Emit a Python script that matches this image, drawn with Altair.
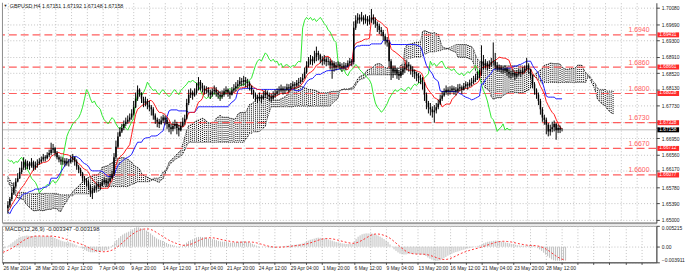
import json
import altair as alt
import numpy as np
import pandas as pd

# ------------------------------------------------------------------ data
# Prices are written in pips above 1.6000 (e.g. 535 -> 1.6535).
# H4 bars before the first visible candle (13-26 Mar 2014), used by the indicators.
pre_close = [645, 640, 638,
             636, 632, 628, 640, 635, 632,
             630, 634, 625, 628, 633, 630,
             628, 622, 610, 598, 596, 600,
             602, 605, 600, 598, 595, 562,
             548, 530, 512, 496, 488, 492,
             498, 494, 486, 482, 488, 492,
             495, 500, 506, 515, 522, 518,
             515, 510, 505, 520, 530, 525,
             528]
pre_high = [652, 648, 642,
            640, 638, 636, 645, 644, 638,
            636, 638, 634, 632, 638, 636,
            634, 630, 624, 612, 602, 606,
            608, 610, 606, 604, 600, 598,
            565, 550, 532, 515, 498, 498,
            502, 500, 495, 490, 492, 496,
            498, 504, 510, 520, 528, 526,
            522, 518, 512, 524, 535, 532,
            534]
pre_low = [640, 636, 632,
           630, 628, 622, 626, 630, 628,
           625, 626, 620, 622, 626, 625,
           622, 615, 605, 592, 590, 594,
           596, 598, 594, 592, 588, 555,
           540, 525, 505, 490, 480, 484,
           490, 486, 478, 475, 480, 486,
           488, 492, 500, 505, 515, 512,
           508, 502, 498, 503, 518, 518,
           520]

# Visible H4 bars, from 26 Mar 2014 04:00.
bar_close = [
    535, 550, 565, 580, 592, 600, 615, 625,
    640, 628, 635, 630, 638, 625, 632, 635,
    640, 645, 650, 648, 655, 660, 668, 672,
    660, 650, 645, 640, 642, 635, 640, 638,
    645, 650, 640, 628, 620, 612, 600, 595,
    590, 580, 565, 570, 575, 580, 585, 582,
    590, 595, 588, 592, 600, 610, 650, 675,
    700, 712, 720, 730, 735, 740, 745, 755,
    770, 790, 812, 805, 790, 780, 785, 775,
    770, 765, 750, 740, 735, 730, 738, 745,
    740, 730, 722, 718, 725, 730, 720, 715,
    725, 735, 742, 780, 800, 805, 798, 805,
    815, 830, 822, 815, 810, 812, 805, 800,
    808, 812, 805, 800, 795, 800, 808, 812,
    805, 800, 810, 815, 820, 825, 832, 830,
    835, 830, 828, 820, 810, 800, 795, 790,
    795, 790, 798, 805, 800, 795, 790, 798,
    802, 808, 810, 815, 810, 812, 818, 815,
    820, 825, 822, 828, 830, 835, 840, 855,
    870, 880, 885, 880, 890, 900, 895, 885,
    880, 885, 878, 880, 870, 875, 865, 870,
    872, 868, 865, 870, 868, 875, 880, 878,
    960, 978, 985, 980, 985, 978, 982, 975,
    980, 985, 978, 970, 965, 955, 950, 940,
    930, 925, 880, 862, 855, 860, 850, 845,
    855, 860, 865, 872, 868, 860, 855, 850,
    845, 840, 835, 825, 800, 780, 770, 765,
    758, 762, 770, 778, 790, 798, 805, 812,
    808, 810, 815, 812, 808, 815, 818, 812,
    820, 825, 822, 828, 830, 835, 840, 845,
    850, 880, 870, 875, 868, 872, 878, 880,
    870, 862, 865, 860, 858, 862, 855, 850,
    848, 852, 845, 850, 855, 852, 858, 862,
    870, 860, 845, 825, 810, 800, 785, 765,
    745, 740, 728, 712, 718, 722, 730, 715,
    720, 716, 716]
bar_high = [
    545, 555, 575, 590, 600, 612, 625, 640,
    650, 645, 642, 640, 648, 642, 640, 645,
    648, 652, 658, 655, 662, 668, 685, 682,
    675, 665, 655, 652, 650, 648, 648, 646,
    655, 658, 652, 645, 632, 625, 615, 605,
    600, 595, 585, 578, 582, 590, 592, 590,
    598, 602, 600, 600, 610, 618, 660, 690,
    710, 722, 730, 738, 745, 750, 755, 765,
    785, 805, 822, 815, 800, 795, 795, 790,
    785, 775, 770, 755, 745, 742, 748, 752,
    750, 745, 735, 730, 735, 740, 735, 728,
    735, 745, 752, 790, 812, 815, 810, 815,
    828, 842, 835, 828, 822, 820, 818, 812,
    815, 822, 818, 810, 808, 810, 815, 820,
    815, 810, 818, 825, 830, 835, 842, 840,
    845, 842, 838, 832, 822, 812, 805, 800,
    805, 800, 808, 812, 810, 805, 802, 808,
    812, 815, 820, 824, 820, 820, 826, 825,
    828, 832, 830, 835, 840, 842, 850, 865,
    880, 890, 895, 892, 905, 915, 905, 898,
    892, 895, 890, 890, 885, 882, 880, 878,
    880, 878, 875, 878, 876, 882, 888, 885,
    975, 990, 995, 992, 998, 990, 992, 988,
    990, 1005, 992, 985, 975, 970, 962, 955,
    945, 938, 930, 885, 870, 870, 862, 858,
    865, 868, 875, 882, 878, 872, 868, 860,
    855, 852, 848, 842, 830, 805, 785, 780,
    772, 775, 780, 788, 800, 808, 815, 822,
    818, 820, 822, 820, 818, 825, 826, 822,
    828, 832, 830, 836, 840, 845, 850, 855,
    860, 918, 895, 885, 880, 882, 888, 925,
    900, 878, 872, 870, 868, 870, 865, 862,
    858, 860, 856, 858, 862, 860, 866, 870,
    888, 875, 862, 848, 830, 815, 805, 790,
    770, 752, 745, 732, 728, 735, 738, 732,
    728, 726, 720]
bar_low = [
    515, 530, 545, 560, 575, 590, 598, 610,
    620, 620, 622, 620, 625, 618, 620, 625,
    632, 636, 640, 640, 645, 650, 655, 660,
    652, 645, 638, 632, 632, 628, 630, 628,
    635, 638, 630, 620, 612, 605, 592, 585,
    580, 572, 555, 550, 565, 570, 575, 572,
    580, 585, 580, 582, 590, 598, 605, 645,
    672, 700, 708, 715, 725, 730, 735, 740,
    750, 768, 785, 795, 780, 770, 772, 765,
    760, 750, 740, 730, 722, 720, 728, 732,
    728, 718, 710, 705, 712, 718, 705, 700,
    712, 722, 728, 740, 775, 792, 788, 795,
    800, 810, 810, 805, 800, 802, 795, 790,
    795, 800, 795, 790, 785, 790, 795, 800,
    795, 790, 798, 805, 808, 815, 820, 820,
    822, 818, 815, 810, 800, 790, 785, 780,
    785, 780, 788, 792, 790, 785, 782, 788,
    792, 798, 800, 805, 800, 802, 808, 805,
    810, 815, 812, 818, 820, 825, 830, 838,
    850, 865, 872, 870, 875, 880, 882, 875,
    870, 872, 868, 870, 860, 838, 855, 858,
    862, 860, 855, 860, 858, 865, 870, 868,
    872, 955, 970, 970, 975, 968, 970, 965,
    968, 972, 968, 960, 950, 945, 940, 930,
    920, 915, 865, 835, 840, 848, 838, 835,
    840, 848, 852, 858, 855, 848, 842, 838,
    832, 828, 825, 812, 785, 765, 755, 750,
    745, 733, 755, 765, 775, 785, 795, 800,
    798, 800, 805, 800, 798, 805, 808, 802,
    810, 815, 812, 818, 820, 825, 830, 835,
    840, 845, 860, 862, 858, 862, 868, 870,
    860, 855, 855, 852, 850, 852, 845, 840,
    838, 842, 835, 840, 845, 842, 848, 852,
    858, 850, 838, 815, 800, 790, 775, 752,
    735, 728, 705, 700, 702, 710, 712, 692,
    708, 708, 712]

x_tick_labels = ["26 Mar 2014", "28 Mar 20:00", "2 Apr 12:00", "7 Apr 04:00",
                 "9 Apr 20:00", "14 Apr 12:00", "17 Apr 04:00", "21 Apr 20:00",
                 "24 Apr 12:00", "29 Apr 04:00", "1 May 20:00", "6 May 12:00",
                 "9 May 04:00", "13 May 20:00", "16 May 12:00", "21 May 04:00",
                 "23 May 20:00", "28 May 12:00"]
price_ticks = [1.65000, 1.65391, 1.65782, 1.66172, 1.66563, 1.66954, 1.67345,
               1.67735, 1.68126, 1.68517, 1.68908, 1.69298, 1.69689, 1.70080]
hidden_price_tick = 1.67345      # covered by the 1.67328 price box in the reference
raised_price_ticks = [1.66172, 1.68126]   # labels sitting just above a price box
level_prices = [1.69431, 1.68661, 1.68028, 1.67328, 1.66712, 1.66077]
level_names = ["1.6940", "1.6860", "1.6800", "1.6730", "1.6670", "1.6600"]
bid_price = 1.67158
header_text = "GBPUSD,H4  1.67151 1.67192 1.67148 1.67158"
macd_text = "MACD(12,26,9) -0.003347 -0.003198"
macd_ticks = [-0.003911, 0.0, 0.005215]

# ------------------------------------------------------------------ derived series
FONT = "Liberation Sans"
c = np.array(pre_close + bar_close, float) * 1e-4 + 1.6
h = np.array(pre_high + bar_high, float) * 1e-4 + 1.6
l = np.array(pre_low + bar_low, float) * 1e-4 + 1.6
bars = np.arange(len(c)) - len(pre_close)
o = np.r_[c[0], c[:-1]]
h = np.maximum(h, np.maximum(o, c))
l = np.minimum(l, np.minimum(o, c))

H, L, C = pd.Series(h), pd.Series(l), pd.Series(c)
tenkan = (H.rolling(9, min_periods=1).max() + L.rolling(9, min_periods=1).min()) / 2
kijun = (H.rolling(26, min_periods=1).max() + L.rolling(26, min_periods=1).min()) / 2
span_a = (tenkan + kijun) / 2
span_b = (H.rolling(52, min_periods=1).max() + L.rolling(52, min_periods=1).min()) / 2
macd = C.ewm(span=12, adjust=False).mean() - C.ewm(span=26, adjust=False).mean()
signal = macd.rolling(9, min_periods=1).mean()

vis = bars >= 0
candles = pd.DataFrame({"bar": bars, "open": o, "high": h, "low": l, "close": c})[vis]
ichi = pd.DataFrame({"bar": bars, "tenkan": tenkan.values, "kijun": kijun.values})[vis]
chikou = pd.DataFrame({"bar": bars - 26, "v": c})
chikou = chikou[chikou.bar >= 0]
cloud = pd.DataFrame({"bar": bars + 26, "a": span_a.values, "b": span_b.values})
cloud = cloud[(cloud.bar >= 0) & (cloud.bar <= 327)]
macd_df = pd.DataFrame({"bar": bars, "m": macd.values, "s": signal.values,
                        "z": np.zeros(len(bars))})[vis]

BOX_HALF = 0.0006
levels = pd.DataFrame({"price": level_prices, "name": level_names,
                       "box": ["%.5f" % p for p in level_prices]})
levels["lo"] = levels.price - BOX_HALF
levels["hi"] = levels.price + BOX_HALF
bid = pd.DataFrame({"price": [bid_price], "box": ["%.5f" % bid_price]})
bid["lo"] = bid.price - BOX_HALF
bid["hi"] = bid.price + BOX_HALF

# ------------------------------------------------------------------ scales / axes
XS = alt.Scale(domain=[-0.5, 327.5], nice=False, zero=False)
YS = alt.Scale(domain=[1.6493, 1.7020], nice=False, zero=False)
MS = alt.Scale(domain=[-0.003911, 0.005215], nice=False, zero=False)
grid_vals = list(range(0, 328, 8))
GRID = dict(grid=True, gridColor="#c2c2c2", gridDash=[1, 2], gridWidth=1)

raise_test = " || ".join(f"abs(datum.value - {v}) < 0.00001" for v in raised_price_ticks)
ax_x_main = alt.Axis(values=grid_vals, labels=False, ticks=False, domainColor="#9a9a9a",
                     domainWidth=2, title=None, **GRID)
ax_y_main = alt.Axis(orient="right", values=price_ticks,
                     labelExpr=(f"abs(datum.value - {hidden_price_tick}) < 0.00001 ? '' : "
                                "format(datum.value, '.4f') + '0'"),
                     labelOffset={"condition": {"test": raise_test, "value": -2}, "value": 0},
                     tickSize=3, tickColor="#444", domainColor="#444", labelPadding=2,
                     labelFontSize=5, labelColor="#222", labelFont=FONT,
                     labelOverlap=False, labelBaseline="middle", title=None, **GRID)
X_main = alt.X("bar:Q", scale=XS, axis=ax_x_main)


def ym(field):
    return alt.Y(field, type="quantitative", scale=YS, axis=ax_y_main)


lbl_arr = json.dumps(x_tick_labels)
ax_x_macd = alt.Axis(values=grid_vals,
                     labelExpr=(f"datum.value % 16 == 0 && datum.value / 16 < {len(x_tick_labels)}"
                                f" ? {lbl_arr}[datum.value / 16] : ''"),
                     labelAlign="left", labelPadding=1, labelFontSize=5, labelFont=FONT,
                     labelColor="#222", labelFlush=False, labelOverlap=False, tickSize=2,
                     tickColor="#444", domainColor="#444", title=None, **GRID)
ax_y_macd = alt.Axis(orient="right", values=macd_ticks,
                     labelExpr="datum.value == 0 ? '0.00' : format(datum.value, '.6f')",
                     tickSize=3, tickColor="#444", domainColor="#444", labelPadding=2,
                     labelFontSize=5, labelColor="#222", labelFont=FONT, labelFlush=True,
                     labelOverlap=False, title=None, **GRID)
X_macd = alt.X("bar:Q", scale=XS, axis=ax_x_macd)

# ------------------------------------------------------------------ main panel
cloud_fill = alt.Chart(cloud).mark_rule(color="black", strokeWidth=1, strokeDash=[1, 1],
                                        clip=True).encode(
    x=X_main, y=ym("a"), y2="b:Q")
cloud_a = alt.Chart(cloud).mark_line(color="black", strokeWidth=0.8, strokeDash=[1, 1],
                                     clip=True).encode(x=X_main, y=ym("a"))
cloud_b = alt.Chart(cloud).mark_line(color="black", strokeWidth=0.8, strokeDash=[1, 1],
                                     clip=True).encode(x=X_main, y=ym("b"))
bid_line = alt.Chart(bid).mark_rule(color="#bdbdbd", strokeWidth=1).encode(y=ym("price"))
lvl_lines = alt.Chart(levels).mark_rule(color="#ff4d4d", strokeWidth=1.2, strokeDash=[8, 4],
                                        opacity=0.9).encode(y=ym("price"))
lvl_text = alt.Chart(levels).mark_text(align="right", baseline="alphabetic", dy=-2.5,
                                       fontSize=7, font=FONT, color="#ff6161").encode(
    x=alt.value(656), y=ym("price"), text="name:N")
tenkan_l = alt.Chart(ichi).mark_line(color="#ff1a1a", strokeWidth=1, clip=True).encode(
    x=X_main, y=ym("tenkan"))
kijun_l = alt.Chart(ichi).mark_line(color="#1a1aff", strokeWidth=1, clip=True).encode(
    x=X_main, y=ym("kijun"))
chikou_l = alt.Chart(chikou).mark_line(color="#2ee82e", strokeWidth=1, clip=True).encode(
    x=X_main, y=ym("v"))
wicks = alt.Chart(candles).mark_rule(color="black", strokeWidth=1, clip=True).encode(
    x=X_main, y=ym("low"), y2="high:Q")
bodies = alt.Chart(candles).mark_bar(color="black", width=1.5, clip=True).encode(
    x=X_main, y=ym("open"), y2="close:Q")
lvl_box = alt.Chart(levels).mark_rect(color="#ff2b2b").encode(
    x=alt.value(664), x2=alt.value(686), y=ym("lo"), y2="hi:Q")
lvl_box_t = alt.Chart(levels).mark_text(align="left", baseline="middle", fontSize=4.8,
                                        font=FONT, color="white").encode(
    x=alt.value(666), y=ym("price"), text="box:N")
bid_box = alt.Chart(bid).mark_rect(color="black").encode(
    x=alt.value(664), x2=alt.value(686), y=ym("lo"), y2="hi:Q")
bid_box_t = alt.Chart(bid).mark_text(align="left", baseline="middle", fontSize=4.8,
                                     font=FONT, color="white").encode(
    x=alt.value(666), y=ym("price"), text="box:N")
hdr = pd.DataFrame({"t": [header_text], "m": ["\u25bc"]})
hdr_t = alt.Chart(hdr).mark_text(align="left", baseline="middle", fontSize=5.4, font=FONT,
                                 color="#222").encode(x=alt.value(8), y=alt.value(3.5),
                                                      text="t:N")
hdr_m = alt.Chart(hdr).mark_text(align="left", baseline="middle", fontSize=4, font=FONT,
                                 color="#222").encode(x=alt.value(1.5), y=alt.value(3.5),
                                                      text="m:N")
left_edge = alt.Chart(hdr).mark_rule(color="#8a8a8a").encode(
    x=alt.value(0.5), y=alt.value(0), y2=alt.value(223))

main = alt.layer(cloud_fill, cloud_a, cloud_b, bid_line, lvl_lines, lvl_text,
                 chikou_l, kijun_l, tenkan_l, wicks, bodies,
                 lvl_box, lvl_box_t, bid_box, bid_box_t, hdr_m, hdr_t, left_edge
                 ).properties(width=663, height=223)

# ------------------------------------------------------------------ MACD panel
hist = alt.Chart(macd_df).mark_rule(color="#bdbdbd", strokeWidth=1, clip=True).encode(
    x=X_macd, y=alt.Y("z:Q", scale=MS, axis=ax_y_macd), y2="m:Q")
sig = alt.Chart(macd_df).mark_line(color="#ff3030", strokeWidth=1, strokeDash=[2, 2],
                                   clip=True).encode(
    x=X_macd, y=alt.Y("s:Q", scale=MS, axis=ax_y_macd))
mtxt = alt.Chart(pd.DataFrame({"t": [macd_text]})).mark_text(
    align="left", baseline="middle", fontSize=5.8, font=FONT, color="#222").encode(
    x=alt.value(3), y=alt.value(3.5), text="t:N")
macd_panel = alt.layer(hist, sig, mtxt).properties(
    width=663, height=37, view=alt.ViewBackground(stroke="#9a9a9a", strokeWidth=1))

chart = alt.vconcat(main, macd_panel, spacing=3, bounds="flush").properties(
    padding={"left": 0, "top": 0, "right": 0, "bottom": 0}, background="white"
).configure_view(stroke="transparent")

chart.save("out.html", embed_options={"renderer": "svg", "actions": False})
